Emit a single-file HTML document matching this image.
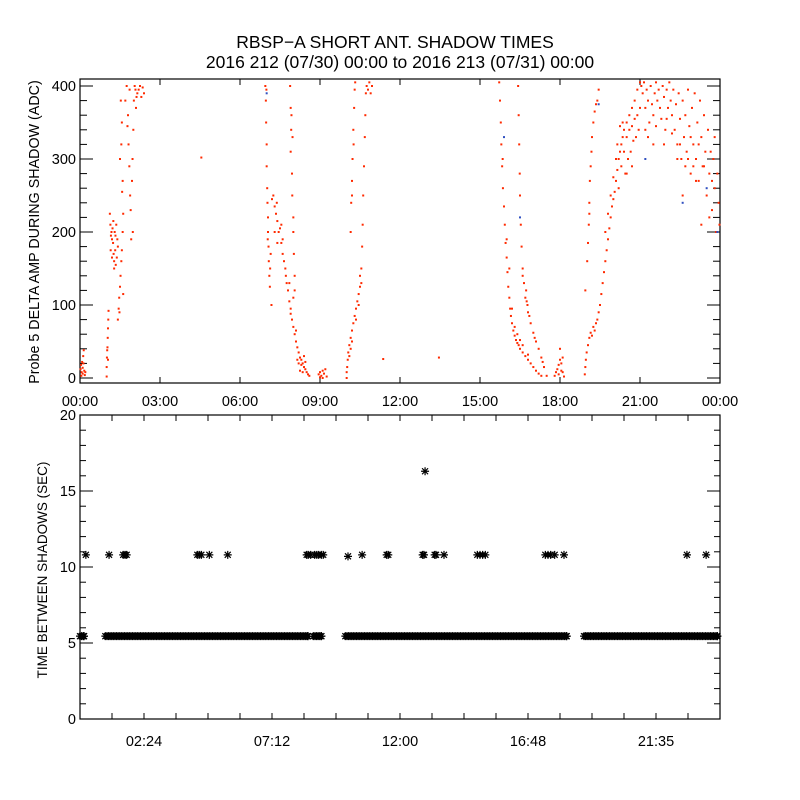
<!DOCTYPE html>
<html><head><meta charset="utf-8"><style>
html,body{margin:0;padding:0;background:#fff}
svg{display:block;font-family:"Liberation Sans",sans-serif}
</style></head><body>
<svg id="c" width="800" height="800" viewBox="0 0 800 800">
<rect width="800" height="800" fill="#fff"/>
<text x="395" y="48" font-size="17.5" text-anchor="middle">RBSP−A SHORT ANT. SHADOW TIMES</text>
<text x="400" y="68" font-size="17.5" text-anchor="middle">2016 212 (07/30) 00:00 to 2016 213 (07/31) 00:00</text>
<text transform="translate(39,232) rotate(-90)" font-size="14.3" text-anchor="middle">Probe 5 DELTA AMP DURING SHADOW (ADC)</text>
<text transform="translate(47,570) rotate(-90)" font-size="13.5" text-anchor="middle">TIME BETWEEN SHADOWS (SEC)</text>
<g id="topplot"></g>
<g id="botplot"></g>
</svg>
<script>
const topXTicks = [0,3,6,9,12,15,18,21,24];
const topXLabels = ["00:00","03:00","06:00","09:00","12:00","15:00","18:00","21:00","00:00"];
const topYTicks = [0,100,200,300,400];
const botYTicks = [0,5,10,15,20];
const botXMinor = [1.2,2.4,3.6,4.8,6.0,7.2,8.4,9.6,10.8,12.0,13.2,14.4,15.6,16.8,18.0,19.2,20.4,21.6,22.8];
const botXLabelHours = [2.4,7.2,12.0,16.8,21.6];
const botXLabels = ["02:24","07:12","12:00","16:48","21:35"];
const shadowPoints = [
[0.02,12],[0.04,18],[0.06,8],[0.08,22],[0.1,14],[0.12,30],[0.14,38],[0.16,10],[0.18,4],[0.05,3],[0.1,6],[0.13,20],[0.2,8],
[1.0,2],[1.0,15],[1.01,28],[1.02,38],[1.03,42],[1.04,55],[1.05,68],[1.06,80],[1.07,92],[1.05,25],
[1.12,225],[1.14,210],[1.16,195],[1.18,200],[1.2,190],[1.22,205],[1.24,185],[1.26,170],[1.28,160],[1.3,200],[1.32,175],[1.34,155],[1.36,210],[1.38,165],[1.4,190],[1.15,175],[1.25,215],[1.33,195],[1.2,165],[1.42,180],[1.28,150],
[1.42,80],[1.45,95],[1.47,110],[1.5,125],[1.52,140],[1.55,160],[1.57,175],[1.6,200],[1.62,115],[1.58,255],[1.6,270],[1.55,320],[1.57,350],[1.53,380],[1.5,300],[1.62,225],[1.48,90],
[1.7,380],[1.75,400],[1.8,360],[1.82,320],[1.85,290],[1.88,250],[1.9,230],[1.95,270],[1.97,300],[2.0,340],[2.02,380],[2.05,400],[2.1,370],[2.15,390],[2.2,395],[2.25,400],[2.3,385],[2.35,398],[2.4,390],[1.92,190],[1.98,200],[2.08,395],[1.78,345],[1.86,395],[2.12,385],
[4.55,302],
[6.95,400],[6.97,380],[6.98,350],[7.0,320],[7.0,290],[7.02,260],[7.03,240],[7.05,220],[7.05,200],[7.07,180],[7.08,160],[7.1,140],[7.12,125],[7.15,170],[7.18,100],[7.13,150],[6.99,395],[7.04,190],
[7.2,245],[7.25,250],[7.3,235],[7.35,225],[7.38,240],[7.4,215],[7.45,200],[7.5,205],[7.55,185],[7.6,170],[7.65,160],[7.7,150],[7.72,140],[7.75,130],[7.8,120],[7.85,105],[7.9,95],[7.95,80],[8.0,70],[8.05,60],[8.1,50],[8.15,42],[8.2,35],[8.25,28],[8.3,25],[8.35,20],[8.4,15],[8.45,12],[8.5,8],[8.55,5],[8.6,3],[8.3,18],[8.25,10],[8.4,30],[8.15,25],[8.45,22],[7.4,185],[7.55,210],[7.3,200],[7.6,190],[7.85,130],[8.0,110],[7.9,88],[8.1,65],[8.2,20],[8.35,8],
[7.88,400],[7.9,370],[7.92,340],[7.9,310],[7.95,280],[7.96,250],[8.0,220],[8.0,200],[8.02,170],[8.05,140],[7.93,360],[7.97,330],[8.05,120],
[8.95,5],[9.0,8],[9.05,3],[9.1,10],[9.15,6],[9.2,12],[9.25,2],[9.1,0],[9.0,1],
[10.0,0],[10.0,8],[10.02,15],[10.04,25],[10.06,35],[10.1,45],[10.15,55],[10.2,65],[10.25,75],[10.3,85],[10.35,95],[10.4,105],[10.45,115],[10.5,125],[10.55,150],[10.58,180],[10.6,210],[10.62,250],[10.65,290],[10.68,330],[10.7,360],[10.72,390],[10.75,400],[10.8,395],[10.85,405],[10.9,390],[10.95,400],[10.35,80],[10.45,100],[10.5,140],[10.2,50],[10.1,30],[10.15,40],[10.55,130],
[10.15,200],[10.17,240],[10.2,270],[10.22,300],[10.25,340],[10.28,370],[10.3,395],[10.32,405],[10.2,250],[10.26,320],
[11.37,26],[13.46,28],
[15.72,405],[15.75,380],[15.78,350],[15.8,320],[15.83,290],[15.86,260],[15.9,235],[15.93,210],[15.96,185],[16.0,165],[16.03,145],[16.06,125],[16.1,110],[16.13,95],[16.16,85],[16.2,75],[16.25,65],[16.3,58],[16.35,52],[16.4,48],[16.45,45],[16.5,40],[16.6,35],[16.7,30],[16.8,25],[16.9,20],[17.0,15],[17.1,10],[17.2,6],[17.3,3],[16.3,70],[16.4,60],[16.5,52],[15.85,300],[16.0,190],[16.1,150],[16.2,95],[16.6,45],[16.8,32],
[16.43,400],[16.45,360],[16.47,320],[16.49,280],[16.5,250],[16.53,210],[16.56,180],[16.6,150],[16.65,130],[16.7,110],[16.73,120],[16.78,100],[16.85,85],[16.9,75],[17.0,62],[17.1,50],[17.2,40],[17.3,28],[17.4,15],[17.5,3],[16.75,105],[16.8,90],[17.05,55],[17.35,22],[16.6,140],
[17.8,3],[17.85,8],[17.9,12],[17.95,18],[18.0,25],[18.05,20],[18.1,8],[18.15,2],[17.95,5],[18.05,10],[18.0,40],[18.1,28],
[18.93,5],[18.95,15],[18.97,25],[19.0,35],[19.05,45],[19.1,55],[19.15,62],[19.2,58],[19.25,70],[19.3,65],[19.35,75],[19.4,80],[19.45,90],[19.5,100],[19.55,115],[19.6,130],[19.65,145],[19.7,160],[19.75,175],[19.8,190],[19.85,205],[19.9,220],[19.95,235],[20.0,245],[20.05,255],[20.1,270],[20.15,285],[20.2,300],[20.25,310],[20.3,320],[20.35,330],[20.4,340],[20.5,350],[20.6,360],[20.7,370],[20.8,380],[20.9,395],[21.0,405],
[19.9,250],[20.0,275],[20.1,300],[20.15,320],[20.2,260],[20.3,290],[20.35,350],[20.4,310],[20.45,280],[20.5,330],[20.55,300],[20.6,340],[20.65,310],[20.7,345],[20.75,325],[20.8,355],[20.85,330],[20.9,360],[20.95,340],[21.0,370],[19.8,225],[19.7,200],[20.25,345],[20.5,280],[20.7,290],
[19.02,160],[19.05,185],[19.08,210],[19.1,240],[19.12,270],[19.15,290],[19.18,310],[19.2,330],[19.25,350],[19.3,365],[19.35,375],[19.4,380],[19.45,395],[19.1,225],[18.95,120],
[21.05,400],[21.1,390],[21.15,405],[21.2,370],[21.25,395],[21.3,380],[21.35,350],[21.4,400],[21.45,375],[21.5,360],[21.55,390],[21.6,405],[21.65,380],[21.7,395],[21.75,370],[21.8,355],[21.85,400],[21.9,385],[21.95,340],[22.0,395],[22.05,370],[22.1,405],[22.15,380],[22.2,360],[22.25,395],[22.3,340],[22.35,375],[22.4,320],[22.45,390],[22.5,355],[22.55,300],[22.6,380],[22.65,330],[22.7,360],[22.75,310],[22.8,395],[22.85,345],[22.9,280],[22.95,370],[23.0,320],[23.05,390],[23.1,300],[23.15,350],[23.2,270],[23.25,380],[23.3,330],[23.35,290],[23.4,360],[23.45,310],[23.5,250],[23.55,340],[23.6,280],[23.65,310],[23.7,230],[23.75,300],[23.8,260],[23.85,200],[23.9,280],[23.95,240],[23.98,210],[21.3,330],[21.6,345],[21.9,320],[22.2,335],[22.4,300],[22.7,290],[22.9,330],[23.1,270],[23.4,290],[23.7,270],[21.2,340],[21.5,320],[22.0,355],[22.5,320],[23.0,290],[23.2,320],[23.6,220],[23.8,330],[22.6,250],[23.3,210],[22.8,300]
];
const bluePoints = [[7.0,390],[15.9,330],[16.5,220],[19.45,375],[21.2,300],[22.6,240],[23.9,200],[23.5,260]];
const gapHours = [0.22,1.09,1.62,1.69,1.75,4.4,4.47,4.55,4.85,5.54,8.5,8.56,8.65,8.8,8.88,8.95,9.05,9.12,10.05,10.58,11.5,11.56,12.85,12.9,13.3,13.35,13.65,14.9,15.0,15.1,15.2,17.45,17.55,17.65,17.8,18.15,22.76,23.48];
const gapValues = [10.8,10.8,10.8,10.8,10.8,10.8,10.8,10.8,10.8,10.8,10.8,10.8,10.8,10.8,10.8,10.8,10.8,10.8,10.7,10.8,10.8,10.8,10.8,10.8,10.8,10.8,10.8,10.8,10.8,10.8,10.8,10.8,10.8,10.8,10.8,10.8,10.8,10.8];
const outlierHours = [12.94];
const outlierValues = [16.3];
const bandStarts = [0.0,0.95,8.75,9.95,18.9];
const bandEnds = [0.25,8.65,9.15,18.35,24.0];
const bandValue = 5.45;

const NS="http://www.w3.org/2000/svg";
function mk(p,t,a){const e=document.createElementNS(NS,t);for(const k in a)e.setAttribute(k,a[k]);p.appendChild(e);return e;}
const X0=80,X1=720;
const xh=h=>X0+h*(X1-X0)/24;
const yTop=v=>378-0.73*v;
const yBot=v=>719-15.2*v;
const topG=document.getElementById('topplot'), botG=document.getElementById('botplot');

let fr=mk(topG,'rect',{x:80,y:79,width:640,height:304,fill:'none',stroke:'#000','stroke-width':1.2});


topXTicks.forEach((h,i)=>{
  const x=xh(h);
  mk(topG,'line',{x1:x,y1:383,x2:x,y2:377,stroke:'#000'});
  mk(topG,'line',{x1:x,y1:79,x2:x,y2:85,stroke:'#000'});
  const t=mk(topG,'text',{x:x,y:406,'font-size':14.5,'text-anchor':'middle'});t.textContent=topXLabels[i];
  
  
});
for(let v=0;v<=400;v+=20){
  const y=yTop(v),L=(v%100===0)?13:7;
  mk(topG,'line',{x1:80,y1:y,x2:80+L,y2:y,stroke:'#000'});
  mk(topG,'line',{x1:720,y1:y,x2:720-L,y2:y,stroke:'#000'});
}
topYTicks.forEach(v=>{
  const t=mk(topG,'text',{x:76,y:yTop(v)+5,'font-size':14.5,'text-anchor':'end'});t.textContent=v;
  
  
});
shadowPoints.forEach(p=>{
  const r=mk(topG,'rect',{x:xh(p[0])-1,y:yTop(p[1])-1,width:2,height:2,fill:'#ff2a00'});
  
  
});
bluePoints.forEach(p=>{
  const r=mk(topG,'rect',{x:xh(p[0])-1,y:yTop(p[1])-1,width:2,height:2,fill:'#3050c0'});
  
  
});

fr=mk(botG,'rect',{x:80,y:415,width:640,height:304,fill:'none',stroke:'#000','stroke-width':1.2});


botXMinor.forEach(h=>{
  const x=xh(h);
  mk(botG,'line',{x1:x,y1:719,x2:x,y2:713,stroke:'#000'});
  mk(botG,'line',{x1:x,y1:415,x2:x,y2:421,stroke:'#000'});
});
botXLabelHours.forEach((h,i)=>{
  const t=mk(botG,'text',{x:xh(h),y:746,'font-size':14.5,'text-anchor':'middle'});t.textContent=botXLabels[i];
  
  
});
for(let v=0;v<=20;v++){
  const y=yBot(v),L=(v%5===0)?13:6;
  mk(botG,'line',{x1:80,y1:y,x2:80+L,y2:y,stroke:'#000'});
  mk(botG,'line',{x1:720,y1:y,x2:720-L,y2:y,stroke:'#000'});
}
botYTicks.forEach(v=>{
  const t=mk(botG,'text',{x:76,y:yBot(v)+5,'font-size':14.5,'text-anchor':'end'});t.textContent=v;
  
  
});
function star(h,v){
  const cx=xh(h),cy=yBot(v),r=4;
  const d=`M${cx-r},${cy}H${cx+r}M${cx},${cy-r}V${cy+r}M${cx-3},${cy-3}L${cx+3},${cy+3}M${cx-3},${cy+3}L${cx+3},${cy-3}`;
  const p=mk(botG,'path',{d:d,stroke:'#000','stroke-width':1.2,fill:'none'});
  
  
}
bandStarts.forEach((s,i)=>{
  for(let h=s;h<=bandEnds[i]+1e-6;h+=0.06) star(Math.min(h,bandEnds[i]-0.1),bandValue);
});
gapHours.forEach((h,i)=>star(h,gapValues[i]));
outlierHours.forEach((h,i)=>star(h,outlierValues[i]));
</script>
</body></html>
